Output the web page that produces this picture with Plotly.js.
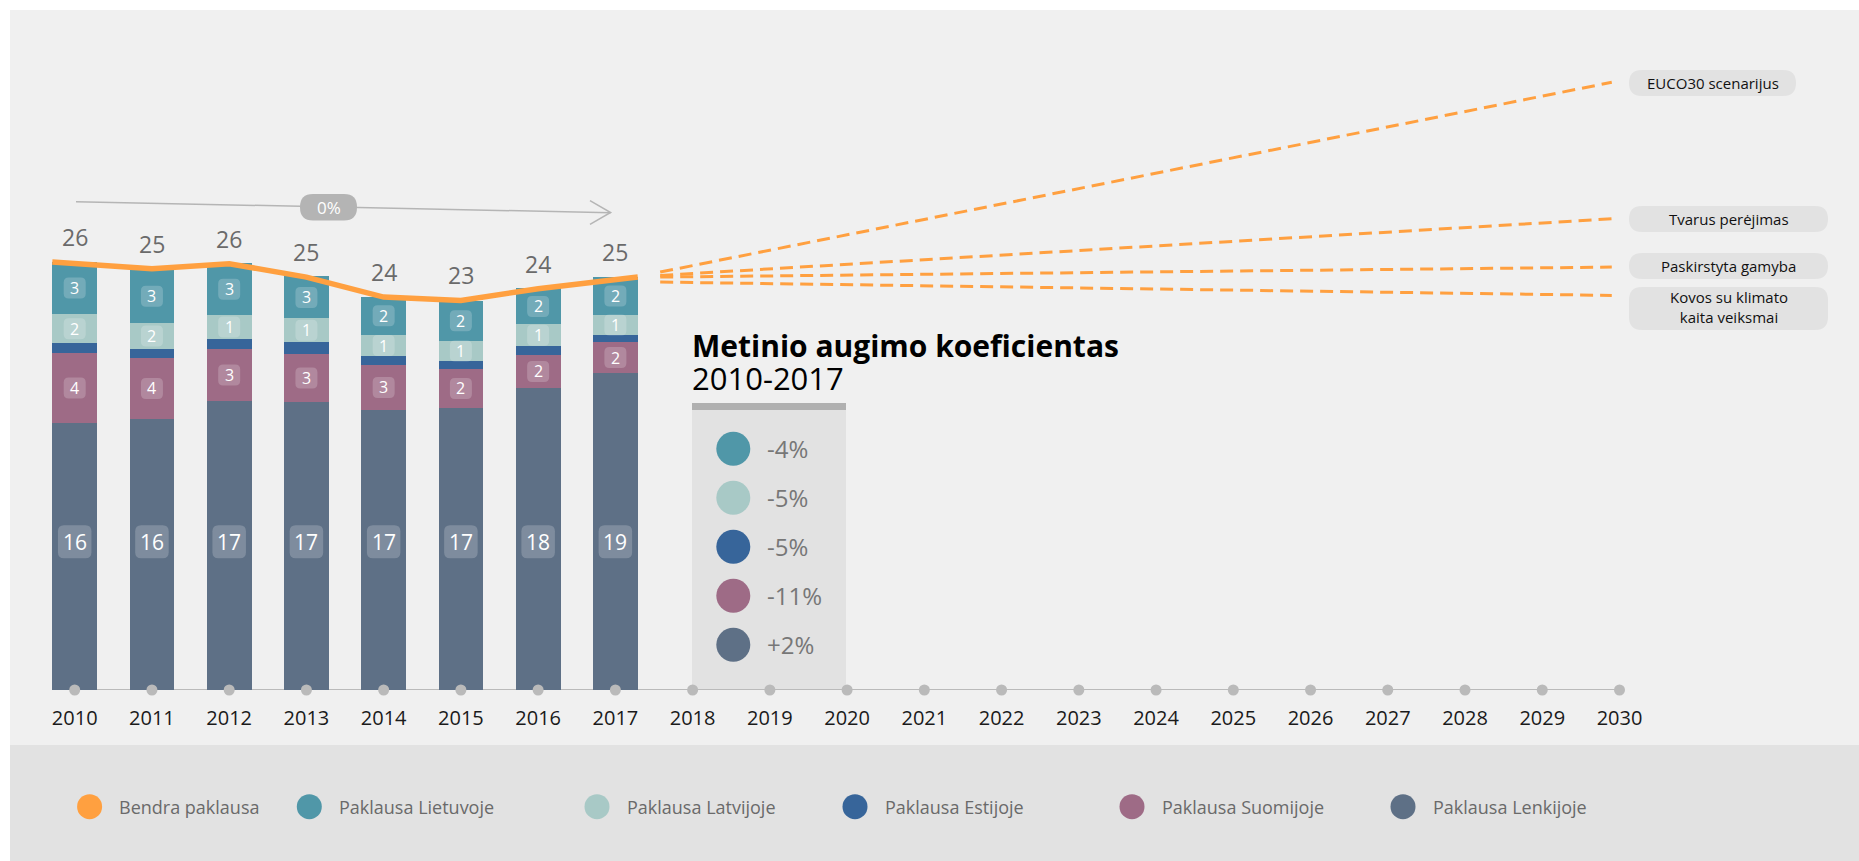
<!DOCTYPE html>
<html>
<head>
<meta charset="utf-8">
<script src="https://cdn.plot.ly/plotly-3.0.1.min.js"></script>
<style>
html,body{margin:0;padding:0;background:#ffffff;}
#chart{width:1859px;height:861px;}
</style>
</head>
<body>
<div id="chart"></div>
<script>
// ---------------- DATA ----------------
const years = [2010, 2011, 2012, 2013, 2014, 2015, 2016, 2017];
const axisYears = [2010, 2011, 2012, 2013, 2014, 2015, 2016, 2017, 2018, 2019, 2020,
                   2021, 2022, 2023, 2024, 2025, 2026, 2027, 2028, 2029, 2030];

const paklausaLenkijoje = [16.04, 16.28, 17.36, 17.30, 16.82, 16.94, 18.14, 19.04];
const paklausaSuomijoje = [4.20, 3.66, 3.12, 2.88, 2.70, 2.34, 1.98, 1.86];
const paklausaEstijoje  = [0.60, 0.54, 0.60, 0.72, 0.54, 0.48, 0.54, 0.42];
const paklausaLatvijoje = [1.72, 1.56, 1.44, 1.42, 1.26, 1.20, 1.30, 1.20];
const paklausaLietuvoje = [3.16, 3.23, 3.11, 2.52, 2.30, 2.42, 2.16, 2.30];
const bendraPaklausa    = [25.7, 25.3, 25.6, 24.8, 23.6, 23.4, 24.1, 24.8];

const scenarioNames = ['EUCO30 scenarijus', 'Tvarus perėjimas', 'Paskirstyta gamyba', 'Kovos su klimato<br>kaita veiksmai'];
const scenarioStart = [25.1, 24.9, 24.8, 24.5];
const scenario2030  = [36.5, 28.3, 25.4, 23.7];

// annual growth 2010-2017: Lietuvoje, Latvijoje, Estijoje, Suomijoje, Lenkijoje
const growthLabels = ['-4%', '-5%', '-5%', '-11%', '+2%'];
const totalGrowthLabel = '0%';
const growthTitle = 'Metinio augimo koeficientas';
const growthPeriod = '2010-2017';

const legendNames = ['Bendra paklausa', 'Paklausa Lietuvoje', 'Paklausa Latvijoje',
                     'Paklausa Estijoje', 'Paklausa Suomijoje', 'Paklausa Lenkijoje'];

// ---------------- STYLE / LAYOUT ----------------
const FONT = '"Open Sans", "Noto Sans", sans-serif';
const C = {
  bendra: '#ffa040', lie: '#5097a8', lat: '#a8c9c6', est: '#37659a',
  suo: '#9e6b86', len: '#5e7086', axis: '#bababa'
};
const W = 1859, H = 861, ML = 20, MR = 20, MT = 20, MB = 171;
const PW = W - ML - MR, PH = H - MT - MB;
const X0 = 2009.2918, X1 = X0 + PW / 77.24;
const YMAX = PH / 16.65;
const BAR_W = 0.58;
const BASE_LABEL_Y = 8.9;

const px = x => (x - ML) / PW;
const py = y => (H - MB - y) / PH;

const shapes = [];
const annotations = [];

function rectPx(x0, y0, x1, y1, color, layer) {
  shapes.push({type: 'rect', xref: 'paper', yref: 'paper', x0: px(x0), x1: px(x1), y0: py(y1), y1: py(y0),
    fillcolor: color, line: {width: 0}, layer: layer || 'below'});
}
function roundPx(x0, y0, x1, y1, r, color, layer) {
  const X = v => px(v), Y = v => py(v);
  const p = `M ${X(x0 + r)},${Y(y0)} L ${X(x1 - r)},${Y(y0)} Q ${X(x1)},${Y(y0)} ${X(x1)},${Y(y0 + r)} ` +
    `L ${X(x1)},${Y(y1 - r)} Q ${X(x1)},${Y(y1)} ${X(x1 - r)},${Y(y1)} L ${X(x0 + r)},${Y(y1)} ` +
    `Q ${X(x0)},${Y(y1)} ${X(x0)},${Y(y1 - r)} L ${X(x0)},${Y(y0 + r)} Q ${X(x0)},${Y(y0)} ${X(x0 + r)},${Y(y0)} Z`;
  shapes.push({type: 'path', xref: 'paper', yref: 'paper', path: p, fillcolor: color, line: {width: 0}, layer: layer || 'above'});
}
function circlePx(cx, cy, r, color, layer) {
  shapes.push({type: 'circle', xref: 'paper', yref: 'paper', x0: px(cx - r), x1: px(cx + r), y0: py(cy + r), y1: py(cy - r),
    fillcolor: color, line: {width: 0}, layer: layer || 'above'});
}
function textPx(x, y, text, size, color, anchor, extra) {
  annotations.push(Object.assign({xref: 'paper', yref: 'paper', x: px(x), y: py(y), text: text, showarrow: false,
    xanchor: anchor || 'center', yanchor: 'middle', font: {family: FONT, size: size, color: color}}, extra || {}));
}
function badge(xv, yv, w, h, r) {
  const p = `M ${-w/2 + r},${-h/2} L ${w/2 - r},${-h/2} Q ${w/2},${-h/2} ${w/2},${-h/2 + r} L ${w/2},${h/2 - r} ` +
    `Q ${w/2},${h/2} ${w/2 - r},${h/2} L ${-w/2 + r},${h/2} Q ${-w/2},${h/2} ${-w/2},${h/2 - r} L ${-w/2},${-h/2 + r} ` +
    `Q ${-w/2},${-h/2} ${-w/2 + r},${-h/2} Z`;
  shapes.push({type: 'path', xref: 'x', yref: 'y', xsizemode: 'pixel', ysizemode: 'pixel', xanchor: xv, yanchor: yv,
    path: p, fillcolor: 'rgba(255,255,255,0.2)', line: {width: 0}, layer: 'above'});
}

// backgrounds
rectPx(10, 10, W, 745, '#f0f0f0');
rectPx(10, 745, W, H, '#e2e2e2');

// growth box
rectPx(692, 410, 846, 690, '#e2e2e2');
rectPx(692, 403, 846, 410, '#b0b0b0');
textPx(690, 362, '<span style="font-size:30px"><b>' + growthTitle + '</b></span><br>' +
  '<span style="font-size:31px">' + growthPeriod + '</span>', 25, '#000', 'left', {align: 'left'});
const growthColors = [C.lie, C.lat, C.est, C.suo, C.len];
growthLabels.forEach((g, i) => {
  const cy = 448.7 + i * 49;
  circlePx(733.3, cy, 17, growthColors[i]);
  textPx(765, cy, g, 24, '#777', 'left');
});

// axis line
shapes.push({type: 'line', xref: 'x', yref: 'y', x0: years[0] - BAR_W / 2, x1: axisYears[axisYears.length - 1], y0: 0, y1: 0,
  line: {color: C.axis, width: 2}, layer: 'below'});

// overall growth arrow
shapes.push({type: 'line', xref: 'paper', yref: 'paper', x0: px(76), y0: py(201.7), x1: px(610.6), y1: py(212.7),
  line: {color: '#b5b5b5', width: 1.5}, layer: 'above'});
shapes.push({type: 'path', xref: 'paper', yref: 'paper',
  path: `M ${px(590)},${py(200.7)} L ${px(610.6)},${py(212.5)} L ${px(590)},${py(224.3)}`,
  line: {color: '#b5b5b5', width: 1.5}, layer: 'above'});
roundPx(300, 194, 357, 220.5, 13, '#b4b4b4');
textPx(328.5, 207.5, totalGrowthLabel, 17, '#ffffff');

// scenario pills
const pillBoxes = [[1629, 70, 1796, 96], [1629, 206, 1828, 232], [1629, 253, 1828, 279], [1629, 287, 1828, 330]];
scenarioNames.forEach((n, i) => {
  const b = pillBoxes[i];
  roundPx(b[0], b[1], b[2], b[3], 13, '#e2e2e2');
  textPx((b[0] + b[2]) / 2, (b[1] + b[3]) / 2 - (i === 3 ? 1.5 : 0), n, 15, '#111');
});

// legend
const legendColors = [C.bendra, C.lie, C.lat, C.est, C.suo, C.len];
const legendX = [89.6, 309.3, 597, 855, 1132, 1403];
legendNames.forEach((n, i) => {
  circlePx(legendX[i], 806.7, 12.5, legendColors[i]);
  textPx(legendX[i] + 27.5, 806.7, n, 18, '#6a6a6a', 'left');
});

// bar badges + labels
const stackSeries = [paklausaLenkijoje, paklausaSuomijoje, paklausaEstijoje, paklausaLatvijoje, paklausaLietuvoje];
years.forEach((yr, i) => {
  let base = 0;
  stackSeries.forEach((s, k) => {
    const v = s[i];
    const mid = base + v / 2;
    if (k === 0) {
      badge(yr, BASE_LABEL_Y, 33.5, 33, 6);
      annotations.push({xref: 'x', yref: 'y', x: yr, y: BASE_LABEL_Y, text: String(Math.round(v)), showarrow: false,
        font: {family: FONT, size: 21, color: '#ffffff'}});
    } else if (k !== 2) {
      badge(yr, mid, 22, 21, 5);
      annotations.push({xref: 'x', yref: 'y', x: yr, y: mid, text: String(Math.round(v)), showarrow: false,
        font: {family: FONT, size: 16, color: '#ffffff'}});
    }
    base += v;
  });
  annotations.push({xref: 'x', yref: 'y', x: yr, y: bendraPaklausa[i], yshift: 25, text: String(Math.round(bendraPaklausa[i])),
    showarrow: false, font: {family: FONT, size: 23, color: '#6a6a6a'}});
});

// ---------------- TRACES ----------------
const barNames = ['Paklausa Lenkijoje', 'Paklausa Suomijoje', 'Paklausa Estijoje', 'Paklausa Latvijoje', 'Paklausa Lietuvoje'];
const barColors = [C.len, C.suo, C.est, C.lat, C.lie];
const traces = stackSeries.map((s, k) => ({
  type: 'bar', x: years, y: s, name: barNames[k], width: BAR_W,
  marker: {color: barColors[k], line: {width: 0}}, hoverinfo: 'skip', showlegend: false
}));

// scenario dashed lines
const scenStartX = years[years.length - 1] + BAR_W;
const scenEndX = axisYears[axisYears.length - 1] - 0.1;
scenarioNames.forEach((n, i) => {
  traces.push({type: 'scatter', mode: 'lines', x: [scenStartX, scenEndX], y: [scenarioStart[i], scenario2030[i]],
    line: {color: C.bendra, width: 3, dash: '13px,7px'}, hoverinfo: 'skip', showlegend: false, name: n});
});

// total demand line (stretched to outer bar edges)
const lineX = years.map((y, i) => i === 0 ? y - BAR_W / 2 : (i === years.length - 1 ? y + BAR_W / 2 : y));
traces.push({type: 'scatter', mode: 'lines', x: lineX, y: bendraPaklausa, name: 'Bendra paklausa',
  line: {color: C.bendra, width: 5.5}, hoverinfo: 'skip', showlegend: false, cliponaxis: false});

// tick dots
traces.push({type: 'scatter', mode: 'markers', x: axisYears, y: axisYears.map(() => 0),
  marker: {color: C.axis, size: 11}, hoverinfo: 'skip', showlegend: false, cliponaxis: false});

const layout = {
  width: W, height: H,
  margin: {l: ML, r: MR, t: MT, b: MB},
  paper_bgcolor: '#ffffff', plot_bgcolor: 'rgba(0,0,0,0)',
  font: {family: FONT},
  barmode: 'stack',
  showlegend: false,
  xaxis: {range: [X0, X1], tickvals: axisYears, ticktext: axisYears.map(String), showgrid: false, zeroline: false,
    showline: false, ticks: 'outside', ticklen: 10, tickcolor: 'rgba(0,0,0,0)', fixedrange: true,
    tickfont: {family: FONT, size: 20, color: '#1a1a1a'}},
  yaxis: {range: [0, YMAX], visible: false, fixedrange: true},
  shapes: shapes,
  annotations: annotations
};

Plotly.newPlot('chart', traces, layout, {displayModeBar: false, staticPlot: true});
</script>
</body>
</html>
